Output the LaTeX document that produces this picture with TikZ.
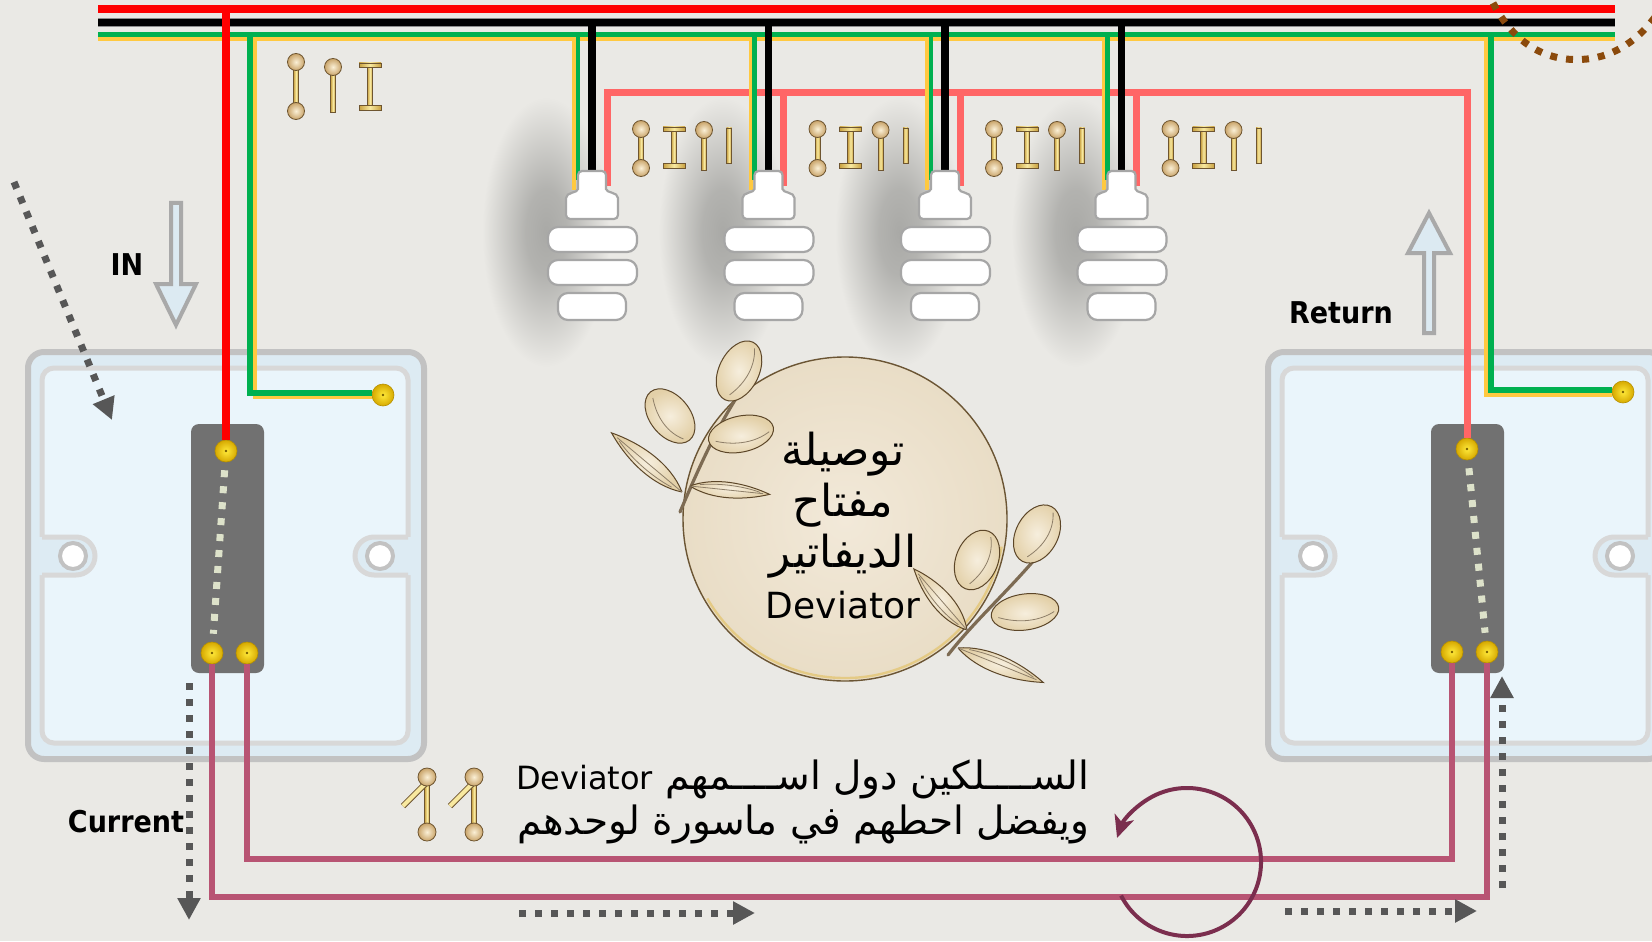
\documentclass[tikz,border=0pt]{standalone}
\usepackage{fontspec}
\usetikzlibrary{arrows.meta,calc}
\TeXXeTstate=1
\newfontfamily\arabicfont[Script=Arabic]{DejaVu Sans}
\newfontfamily\labelfont[FakeStretch=0.9]{DejaVu Sans}

% palette
\definecolor{paper}{HTML}{EAE9E5}
\definecolor{shadowgray}{HTML}{A9A9A6}
\definecolor{busred}{HTML}{FF0000}
\definecolor{gnd}{HTML}{00B050}
\definecolor{gndy}{HTML}{FFC940}
\definecolor{retpink}{HTML}{FF6666}
\definecolor{travel}{HTML}{B85473}
\definecolor{plateout}{HTML}{DDEBF3}
\definecolor{plateedge}{HTML}{C2C2C2}
\definecolor{platein}{HTML}{EAF5FB}
\definecolor{plateinedge}{HTML}{D8D8D8}
\definecolor{bodygray}{HTML}{717171}
\definecolor{termhi}{HTML}{FFE93A}
\definecolor{termlo}{HTML}{D6A900}
\definecolor{linkdots}{HTML}{DDE2CA}
\definecolor{flow}{HTML}{575757}
\definecolor{hollow}{HTML}{A9A9A9}
\definecolor{hollowfill}{HTML}{DCEAF2}
\definecolor{looppurple}{HTML}{7B2E4E}
\definecolor{brownd}{HTML}{8B4A0C}
\definecolor{discin}{HTML}{F2E9D9}
\definecolor{discout}{HTML}{E9DDC6}
\definecolor{discedge}{HTML}{6B5534}
\definecolor{discrim}{HTML}{E3C36A}
\definecolor{leafhi}{HTML}{F6EEDD}
\definecolor{leaflo}{HTML}{E3D0A8}
\definecolor{leafedge}{HTML}{5C4628}
\definecolor{goldedge}{HTML}{6E5530}
\definecolor{ballhi}{HTML}{FBF0D6}
\definecolor{balllo}{HTML}{C9A46A}
\definecolor{barhi}{HTML}{F8E9A0}
\definecolor{barlo}{HTML}{C8A040}
\definecolor{lampedge}{HTML}{A6A6A6}

% soft shadow that fades into the paper colour
\pgfdeclareradialshading{lampshade}{\pgfpoint{0bp}{0bp}}{%
  color(0bp)=(shadowgray); color(8bp)=(shadowgray!85!paper);
  color(17bp)=(shadowgray!40!paper); color(25bp)=(paper); color(50bp)=(paper)}

\begin{document}
\begin{tikzpicture}[x=0.5pt,y=-0.5pt,
  screwpt/.style={circle, minimum size=11pt, inner sep=0pt,
    inner color=termhi, outer color=termlo, draw=termlo!85!black, line width=0.3pt,
    path picture={\fill[termlo!55!black] (path picture bounding box.center) circle[radius=0.7pt];}},
  linkdotted/.style={linkdots, line width=3.5pt, dash pattern=on 3.5pt off 4.5pt,
    shorten <=4pt, shorten >=4pt},
  flowarrow/.style={draw=flow, line width=3.5pt, dash pattern=on 3.5pt off 4.5pt,
    -{Triangle[length=11pt,width=11pt]}},
  browndots/.style={draw=brownd, line width=3.5pt, dash pattern=on 3.5pt off 4.5pt},
  hollowarrow/.style={draw=hollow, line width=2pt, fill=hollowfill, line join=miter},
  lbl/.style={font=\labelfont\bfseries\fontsize{15}{18}\selectfont, inner sep=0pt, text=black},
  lampbit/.style={draw=lampedge, fill=white, line width=1.1pt},
  goldball/.style={draw=goldedge, line width=0.4pt, inner color=ballhi, outer color=balllo},
  goldbar/.style={draw=goldedge, line width=0.4pt, left color=barlo, right color=barlo, middle color=barhi},
  leafsty/.style={draw=leafedge, line width=0.5pt, inner color=leafhi, outer color=leaflo},
  leafvein/.style={draw=leafedge!70, line width=0.4pt},
  stemsty/.style={draw=leafedge!80, line width=1.6pt, line cap=round},
  pics/dumbbell/.style={code={
    \draw[goldbar] (-2.5,0) rectangle (2.5,#1);
    \draw[goldball] (0,0) circle[radius=8.5];
    \draw[goldball] (0,#1) circle[radius=8.5];
  }},
  pics/pin/.style={code={
    \draw[goldbar] (-2.5,0) rectangle (2.5,#1);
    \draw[goldball] (0,0) circle[radius=8.5];
  }},
  pics/ibeam/.style={code={
    \draw[goldbar] (-2.8,4) rectangle (2.8,#1-4);
    \draw[goldbar] (-11,0) rectangle (11,4.5);
    \draw[goldbar] (-11,#1-4.5) rectangle (11,#1);
  }},
  pics/stick/.style={code={
    \draw[goldbar] (-2.5,0) rectangle (2.5,#1);
  }},
  pics/toggle/.style={code={
    \draw[goldbar] (-2.5,0) rectangle (2.5,#1);
    \draw[goldedge, line width=3pt] (0,5) -- (-24,29);
    \draw[barhi, line width=2pt] (0,5) -- (-24,29);
    \draw[goldball] (0,0) circle[radius=9];
    \draw[goldball] (0,#1) circle[radius=9];
  }},
  pics/pleaf/.style args={#1/#2}{code={
    \draw[leafsty] (0,0) .. controls (0.3*#1,-#2) and (0.7*#1,-0.7*#2) .. (#1,0)
                        .. controls (0.7*#1,0.7*#2) and (0.3*#1,#2) .. (0,0);
    \draw[leafvein] (0,0) -- (0.92*#1,0);
    \draw[leafvein] (0.12*#1,-0.2*#2) .. controls (0.4*#1,-0.55*#2) and (0.7*#1,-0.4*#2) .. (0.88*#1,-0.08*#2);
  }},
  pics/oleaf/.style args={#1/#2}{code={
    \draw[leafsty] (0,0) ellipse[x radius=#1, y radius=#2];
    \draw[leafvein] (-0.8*#1,0.1*#2) .. controls (-0.2*#1,0.6*#2) and (0.4*#1,0.6*#2) .. (0.85*#1,0.2*#2);
  }}
]

\useasboundingbox (0,0) rectangle (1652,941);
\fill[paper] (0,0) rectangle (1652,941);

% soft shadows to the left of the lamps
\foreach \k in {0,...,3}{
  \pgfmathsetmacro\cx{592+176.5*\k}
  \shade[shading=lampshade] (\cx-46,232) ellipse[x radius=64, y radius=135];
}

% switch plates (left and right)
\foreach \dx in {0,1240}{
  \begin{scope}[shift={(\dx,0)}]
    \draw[plateedge, line width=3pt, fill=plateout, rounded corners=8pt] (28,352) rectangle (424,759);
    \draw[plateinedge, line width=2.5pt, fill=platein, rounded corners=6pt] (42,368) rectangle (408,743);
    \fill[plateout] (34,537) -- (76,537) arc[start angle=-90,end angle=90,radius=19] -- (34,575) -- cycle;
    \draw[plateinedge, line width=2.5pt] (42,537) -- (76,537) arc[start angle=-90,end angle=90,radius=19] -- (42,575);
    \fill[plateout] (416,537) -- (374,537) arc[start angle=-90,end angle=-270,radius=19] -- (416,575) -- cycle;
    \draw[plateinedge, line width=2.5pt] (408,537) -- (374,537) arc[start angle=-90,end angle=-270,radius=19] -- (408,575);
    \draw[plateedge, line width=2pt, fill=white] (73,556) circle[radius=13];
    \draw[plateedge, line width=2pt, fill=white] (380,556) circle[radius=13];
    \fill[bodygray, rounded corners=4pt] (191,424) rectangle (264,673);
  \end{scope}
}

% switch terminals
\node[screwpt] (Ltop) at (226,451) {};
\node[screwpt] (Lb1) at (212,653) {};
\node[screwpt] (Lb2) at (247,653) {};
\node[screwpt] (Lg) at (383,395) {};
\node[screwpt] (Rtop) at (1467,449) {};
\node[screwpt] (Rb1) at (1452,652) {};
\node[screwpt] (Rb2) at (1487,652) {};
\node[screwpt] (Rg) at (1623,392) {};

% internal contact of each switch
\draw[linkdotted] (Ltop) -- (Lb1);
\draw[linkdotted] (Rtop) -- (Rb2);

% supply bus
\draw[busred, line width=4pt] (98,9) -- (1615,9);
\draw[black!45, line width=4.6pt] (98,22.5) -- (1615,22.5);
\draw[black, line width=3.6pt] (98,22.5) -- (1615,22.5);
\draw[gnd, line width=2.6pt] (98,34.5) -- (1615,34.5);
\draw[gndy, line width=2pt] (98,39.5) -- (1615,39.5);

% phase down to the left switch
\draw[busred, line width=4pt] (226,5) -- (Ltop);

% earth to both plates
\draw[gndy, line width=2pt] (254.5,41) -- (254.5,397) -- ($(Lg.west)+(0,2)$);
\draw[gnd, line width=2.6pt] (250,37) -- (250,393) -- ($(Lg.west)+(0,-2)$);
\draw[gndy, line width=2pt] (1486,41) -- (1486,395) -- ($(Rg.west)+(0,3)$);
\draw[gnd, line width=2.6pt] (1491,37) -- (1491,390) -- ($(Rg.west)+(0,-2)$);

% switched return from the right switch to the lamps
\draw[retpink, line width=3.5pt, line join=miter] (607,186) -- (607,93) -- (Rtop |- 0,93) -- (Rtop);

% lamps with their feeds
\foreach \k in {0,...,3}{
  \pgfmathsetmacro\cx{592+176.5*\k}
  \draw[gndy, line width=2pt] (\cx-18,41) -- (\cx-18,190);
  \draw[gnd, line width=2.2pt] (\cx-14,37) -- (\cx-14,180);
  \draw[black, line width=3.6pt] (\cx,22) -- (\cx,176);
  \ifnum\k>0
    \draw[retpink, line width=3.5pt] (\cx+15,93) -- (\cx+15,186);
  \fi
  \draw[lampbit, rounded corners=2pt] (\cx-26,219) -- (\cx-26,202)
     .. controls (\cx-26,192) and (\cx-14,193) .. (\cx-14,185) -- (\cx-14,171) -- (\cx+14,171) -- (\cx+14,185)
     .. controls (\cx+14,193) and (\cx+26,192) .. (\cx+26,202) -- (\cx+26,219) -- cycle;
  \draw[lampbit, rounded corners=5pt] (\cx-44,227) rectangle (\cx+45,252);
  \draw[lampbit, rounded corners=5pt] (\cx-44,260) rectangle (\cx+45,285);
  \draw[lampbit, rounded corners=5pt] (\cx-34,293) rectangle (\cx+34,320);
  \pic at (\cx+49,129) {dumbbell=39};
  \pic at (\cx+82,127) {ibeam=41};
  \pic at (\cx+112,130) {pin=40};
  \pic at (\cx+137,128) {stick=35};
}

% symbols near the left feed
\pic at (296,62) {dumbbell=49};
\pic at (333,67) {pin=45};
\pic at (370,63) {ibeam=47};

% travellers between the two switches
\coordinate (yU) at (0,859);
\coordinate (yD) at (0,897);
\draw[travel, line width=3pt, line join=miter] (Lb2) -- (Lb2 |- yU) -- (Rb1 |- yU) -- (Rb1);
\draw[travel, line width=3pt, line join=miter] (Lb1) -- (Lb1 |- yD) -- (Rb2 |- yD) -- (Rb2);

% loop marking the traveller pair
\draw[looppurple, line width=2pt, -{Stealth[length=11pt,width=10pt,inset=3pt]}]
  ([shift={(-207:74)}]1187,862) arc[start angle=-207, end angle=-521, radius=74];

% current flow markers
\coordinate (fa1) at (14,182);   \coordinate (fa2) at (112,420);
\coordinate (fb1) at (189,683);  \coordinate (fb2) at (189,920);
\coordinate (fc1) at (519,913);  \coordinate (fc2) at (755,913);
\coordinate (fd1) at (1285,911); \coordinate (fd2) at (1477,911);
\coordinate (fe1) at (1502,888); \coordinate (fe2) at (1502,676);
\draw[flowarrow] (fa1) -- (fa2);
\draw[flowarrow] (fb1) -- (fb2);
\draw[flowarrow] (fc1) -- (fc2);
\draw[flowarrow] (fd1) -- (fd2);
\draw[flowarrow] (fe1) -- (fe2);

% dotted arc at the corner
\draw[browndots] (1493,3) .. controls (1520,55) and (1560,62) .. (1587,59)
                         .. controls (1615,56) and (1640,40) .. (1660,10);

% hollow direction arrows
\draw[hollowarrow] (171,203) -- (181,203) -- (181,284) -- (196,284) -- (176,325)
   -- (156,284) -- (171,284) -- cycle;
\draw[hollowarrow] (1424,333) -- (1434,333) -- (1434,253) -- (1450,253) -- (1429,213)
   -- (1408,253) -- (1424,253) -- cycle;

% labels
\node[lbl] (inlbl) at (127,265) {IN};
\node[lbl] (retlbl) at (1341,313) {Return};
\node[lbl] (curlbl) at (126,822) {Current};

% title disc with olive sprigs
\draw[discedge, line width=0.7pt, inner color=discin, outer color=discout] (845,519) circle[radius=162];
\draw[discrim, line width=1.2pt, opacity=0.7] ([shift={(10:159)}]845,519) arc[start angle=10, end angle=150, radius=159];
\draw[stemsty] (680,512) .. controls (700,465) and (722,415) .. (754,372);
\pic[rotate=140] at (682,492) {pleaf=92/15};
\pic[rotate=-6] at (690,486) {pleaf=80/12};
\pic[rotate=-51] at (670,416) {oleaf=31/20};
\pic[rotate=64] at (739,371) {oleaf=32/20};
\pic[rotate=12] at (741,434) {oleaf=33/18};

\draw[stemsty] (948,655) .. controls (975,620) and (1010,590) .. (1046,546);
\pic[rotate=131] at (967,630) {pleaf=81/15};
\pic[rotate=-22] at (958,648) {pleaf=92/14};
\pic[rotate=68] at (977,560) {oleaf=31/21};
\pic[rotate=62] at (1037,534) {oleaf=31/21};
\pic[rotate=8] at (1025,612) {oleaf=34/18};

\node[font=\arabicfont\fontsize{22}{25.5}\selectfont, align=center, inner sep=0pt] (title) at (843,526)
  {\beginR توصيلة\endR\\ \beginR مفتاح\endR\\ \beginR الديفاتير\endR\\ {\fontsize{18}{25.5}\selectfont Deviator}};

% note about the traveller wires
\pic at (427,777) {toggle=55};
\pic at (474,777) {toggle=55};
\node[anchor=east, align=right, inner sep=0pt, font=\arabicfont\fontsize{19.5}{22.5}\selectfont] (note) at (1090,802)
  {\beginR الســــلكين دول اســــمهم \beginL{\fontsize{16}{22.5}\selectfont Deviator}\endL\endR\\
   \beginR ويفضل احطهم في ماسورة لوحدهم\endR};

\end{tikzpicture}
\end{document}
